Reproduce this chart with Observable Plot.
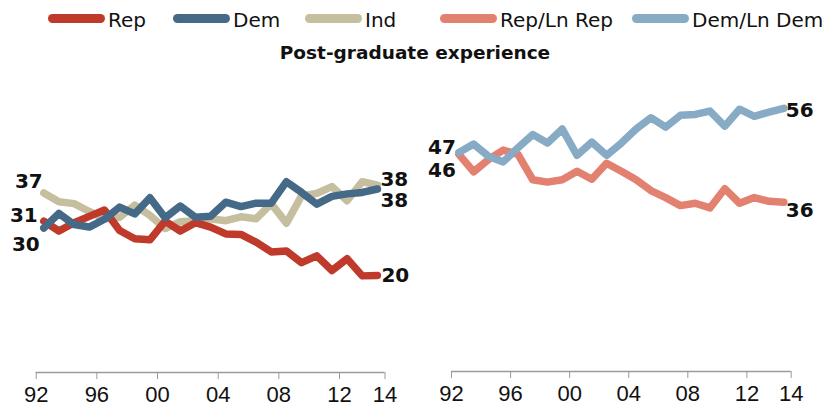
<!DOCTYPE html>
<html>
<head>
<meta charset="utf-8">
<script src="https://cdn.jsdelivr.net/npm/d3@7"></script>
<script src="https://cdn.jsdelivr.net/npm/@observablehq/plot@0.6"></script>
<style>
  html, body { margin: 0; padding: 0; background: #fff; }
  #wrap { position: relative; width: 840px; height: 408px; overflow: hidden; }
  #head { position: absolute; left: 0; top: 0; width: 840px; height: 80px; }
  .sw { position: absolute; top: 14px; width: 57px; height: 9px; border-radius: 4.5px; }
  .lt { position: absolute; top: 9.8px; font: 20px/20px "DejaVu Sans", sans-serif; color: #111; white-space: nowrap; }
  #title { position: absolute; left: 0; width: 830px; top: 44.4px; text-align: center;
           font: bold 18.5px/18.5px "DejaVu Sans", sans-serif; color: #111; }
  #charts { position: absolute; left: 0; top: 80px; display: flex; }
</style>
</head>
<body>
<div id="wrap">
  <div id="head"><div id="title"></div></div>
  <div id="charts"></div>
</div>
<script>
// ---------------- data ----------------
const years = [1992,1993,1994,1995,1996,1997,1998,1999,2000,2001,2002,2003,2004,2005,2006,2007,2008,2009,2010,2011,2012,2013,2014];

const seriesLeft = ["Ind", "Rep", "Dem"];          // drawing order (Dem on top)
const seriesRight = ["Rep/Ln Rep", "Dem/Ln Dem"];
const legendNames = ["Rep", "Dem", "Ind", "Rep/Ln Rep", "Dem/Ln Dem"];
const legendColors = ["#bf3a2b", "#456a87", "#c5be9f", "#e28170", "#87aac5"];

const repValues = [31.0, 29.0, 30.7, 32.0, 33.3, 29.1, 27.4, 27.2, 31.0, 29.0, 30.7, 29.8, 28.4, 28.3, 26.7, 24.7, 24.9, 22.5, 23.9, 20.9, 23.3, 19.8, 19.9];
const demValues = [29.6, 32.6, 30.3, 29.8, 31.4, 33.9, 32.5, 35.8, 31.7, 34.1, 31.8, 32.0, 34.9, 34.0, 34.7, 34.7, 39.1, 36.9, 34.5, 36.1, 36.6, 36.9, 37.6];
const indValues = [36.8, 35.0, 34.6, 33.0, 31.5, 31.8, 34.3, 32.2, 29.5, 30.9, 31.1, 31.5, 31.1, 31.9, 31.5, 34.6, 30.6, 36.2, 36.7, 38.1, 35.2, 39.1, 38.4];

const repLeanValues = [46.2, 42.5, 45.1, 47.1, 46.2, 40.8, 40.3, 40.8, 42.6, 40.9, 44.3, 42.6, 40.8, 38.5, 37.0, 35.3, 35.8, 34.8, 38.9, 35.8, 37.0, 36.2, 36.0];
const demLeanValues = [46.6, 48.4, 45.8, 44.6, 47.6, 50.4, 48.6, 51.6, 46.0, 48.8, 46.0, 48.6, 51.6, 54.0, 52.0, 54.5, 54.7, 55.4, 52.2, 55.8, 54.3, 55.2, 56.0];

const tickYears = [1992, 1996, 2000, 2004, 2008, 2012, 2015];
const tickLabels = ["92", "96", "00", "04", "08", "12", "14"];
const titleText = "Post-graduate experience";

// ---------------- header ----------------
const head = document.getElementById("head");
document.getElementById("title").textContent = titleText;
const legendX = [48, 173, 305, 440, 632];
legendNames.forEach((name, i) => {
  const sw = document.createElement("div");
  sw.className = "sw";
  sw.style.left = legendX[i] + "px";
  sw.style.background = legendColors[i];
  head.appendChild(sw);
  const t = document.createElement("div");
  t.className = "lt";
  t.style.left = (legendX[i] + 60) + "px";
  t.textContent = name;
  head.appendChild(t);
});

const color = {domain: legendNames, range: legendColors};
const valueMap = {
  "Rep": repValues, "Dem": demValues, "Ind": indValues,
  "Rep/Ln Rep": repLeanValues, "Dem/Ln Dem": demLeanValues
};
function rows(names) {
  return names.flatMap(s => valueMap[s].map((v, i) => ({series: s, x: years[i] + 0.5, value: v})));
}
const first = s => ({series: s, x: years[0] + 0.5, value: valueMap[s][0]});
const last = s => ({series: s, x: years[years.length - 1] + 0.5, value: valueMap[s][years.length - 1]});

const labelFont = {fontSize: 20, fontWeight: "bold", fontFamily: "DejaVu Sans, sans-serif", fill: "#111"};
function lbl(d, anchor, dx, dy) {
  return Plot.text([d], {x: "x", y: "value", text: p => String(Math.round(p.value)),
    textAnchor: anchor, dx, dy, ...labelFont});
}
function common() {
  return [
    Plot.ruleY([0], {stroke: "#9a9a9a", strokeWidth: 1.3}),
    Plot.axisX({ticks: tickYears, tickFormat: d => tickLabels[tickYears.indexOf(d)],
      tickSize: 7, tickPadding: 7, fontSize: 22, stroke: "#9a9a9a", fill: "#111", label: null})
  ];
}
const lineOpts = {x: "x", y: "value", z: "series", stroke: "series", strokeWidth: 7.5,
  strokeLinejoin: "round", strokeLinecap: "round"};

const left = Plot.plot({
  width: 420, height: 328,
  marginLeft: 35.7, marginRight: 35.5, marginTop: 23.6, marginBottom: 36,
  x: {domain: [1992, 2015], label: null},
  y: {domain: [0, 55], axis: null},
  color,
  style: {fontFamily: "Liberation Sans, Arial, sans-serif", background: "transparent", overflow: "visible"},
  marks: [
    ...common(),
    Plot.line(rows(seriesLeft), lineOpts),
    lbl(first("Ind"), "end", -1, -11),
    lbl(first("Rep"), "end", -6, -6),
    lbl(first("Dem"), "end", -4, 17),
    lbl(last("Ind"), "start", 3, -6),
    lbl(last("Dem"), "start", 3, 12),
    lbl(last("Rep"), "start", 4, 0)
  ]
});

const right = Plot.plot({
  width: 420, height: 328,
  marginLeft: 31, marginRight: 49.3, marginTop: 9, marginBottom: 37,
  x: {domain: [1992, 2015], label: null},
  y: {domain: [0, 60], axis: null},
  color,
  style: {fontFamily: "Liberation Sans, Arial, sans-serif", background: "transparent", overflow: "visible"},
  marks: [
    ...common(),
    Plot.line(rows(seriesRight), lineOpts),
    lbl(first("Dem/Ln Dem"), "end", -3, -5),
    lbl(first("Rep/Ln Rep"), "end", -3, 16),
    lbl(last("Dem/Ln Dem"), "start", 2, 2),
    lbl(last("Rep/Ln Rep"), "start", 2, 8)
  ]
});

document.getElementById("charts").append(left, right);
</script>
</body>
</html>
